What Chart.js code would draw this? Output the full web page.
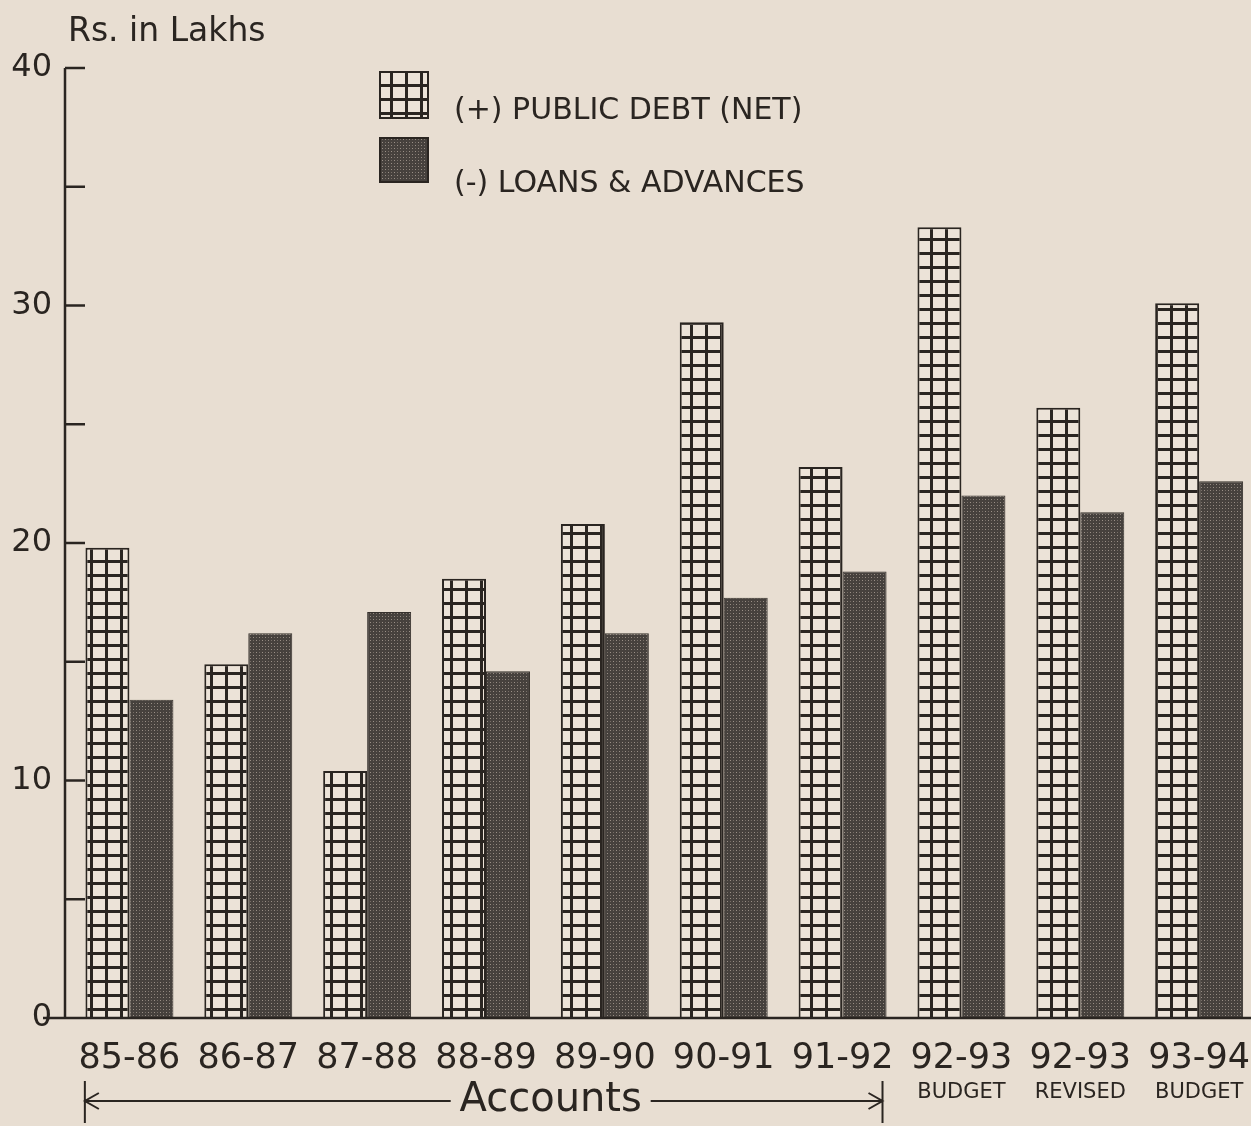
<!DOCTYPE html>
<html>
<head>
<meta charset="utf-8">
<script src="https://cdn.jsdelivr.net/npm/chart.js@4/dist/chart.umd.min.js"></script>
<style>
  html, body { margin: 0; padding: 0; background: #e8ded2; overflow: hidden; }
  #wrap { width: 1251px; height: 1126px; position: relative; overflow: hidden; }
</style>
</head>
<body>
<div id="wrap"><canvas id="chart" width="1262" height="1126"></canvas></div>
<script>
const categories = ["85-86", "86-87", "87-88", "88-89", "89-90", "90-91", "91-92", "92-93", "92-93", "93-94"];
const subLabels = ["", "", "", "", "", "", "", "BUDGET", "REVISED", "BUDGET"];
const publicDebt = [19.8, 14.9, 10.4, 18.5, 20.8, 29.3, 23.2, 33.3, 25.7, 30.1];
const loansAdvances = [13.4, 16.2, 17.1, 14.6, 16.2, 17.7, 18.8, 22.0, 21.3, 22.6];
const seriesNames = ["(+) PUBLIC DEBT (NET)", "(-) LOANS & ADVANCES"];
const labelledTicks = [0, 10, 20, 30, 40];

const ink = "#2a2521";
const paper = "#e8ded2";
const fontName = "'DejaVu Sans', sans-serif";
const axisGap = 5; // y axis line sits a little left of the first bar group

// cross-hatch squares like the printed grid bars
function makeGrid() {
  const c = document.createElement("canvas");
  c.width = 15; c.height = 14;
  const g = c.getContext("2d");
  g.fillStyle = "#ece3d8";
  g.fillRect(0, 0, 15, 14);
  g.fillStyle = ink;
  g.fillRect(0, 0, 15, 3);
  g.fillRect(0, 0, 3, 14);
  return g.createPattern(c, "repeat");
}

// dotted dark screen for loans bars
function makeStipple() {
  const c = document.createElement("canvas");
  c.width = 6; c.height = 6;
  const g = c.getContext("2d");
  g.fillStyle = "#46413d";
  g.fillRect(0, 0, 6, 6);
  g.fillStyle = "#9a9087";
  g.fillRect(1, 1, 1, 1);
  g.fillRect(4, 4, 1, 1);
  g.fillStyle = "#766d66";
  g.fillRect(4, 1, 1, 1);
  g.fillRect(1, 4, 1, 1);
  return g.createPattern(c, "repeat");
}

const gridFill = makeGrid();
const stippleFill = makeStipple();

const decorations = {
  id: "decorations",
  beforeDraw(chart) {
    const ctx = chart.ctx;
    ctx.save();
    ctx.fillStyle = paper;
    ctx.fillRect(0, 0, chart.width, chart.height);
    ctx.restore();
  },
  afterDraw(chart) {
    const ctx = chart.ctx;
    const x = chart.scales.x;
    const y = chart.scales.y;
    const axisX = chart.chartArea.left - axisGap;
    const baseY = y.getPixelForValue(0);
    ctx.save();
    ctx.strokeStyle = ink;
    ctx.fillStyle = ink;
    ctx.lineWidth = 2.5;

    // axes
    ctx.beginPath();
    ctx.moveTo(axisX, y.getPixelForValue(40));
    ctx.lineTo(axisX, baseY);
    ctx.moveTo(axisX - 22, baseY);
    ctx.lineTo(chart.width, baseY);
    ctx.stroke();

    // inward tick marks every 5
    for (let v = 5; v <= 40; v += 5) {
      const py = y.getPixelForValue(v);
      ctx.beginPath();
      ctx.moveTo(axisX, py);
      ctx.lineTo(axisX + 20, py);
      ctx.stroke();
    }

    // title
    ctx.font = "33px " + fontName;
    ctx.textAlign = "left";
    ctx.textBaseline = "alphabetic";
    ctx.fillText("Rs. in Lakhs", 68, 41, 200);

    // legend
    const boxes = [
      { fill: gridFill, y: 72, h: 46, ty: 111 },
      { fill: stippleFill, y: 138, h: 44, ty: 184 }
    ];
    boxes.forEach((b, i) => {
      ctx.fillStyle = b.fill;
      ctx.fillRect(380, b.y, 48, b.h);
      ctx.lineWidth = 2;
      ctx.strokeRect(380, b.y, 48, b.h);
      ctx.fillStyle = ink;
      ctx.font = "30px " + fontName;
      ctx.textBaseline = "middle";
      ctx.fillText(seriesNames[i], 454, b.ty, 360);
    });

    // sub labels under the last categories
    ctx.font = "21px " + fontName;
    ctx.textAlign = "center";
    ctx.textBaseline = "middle";
    subLabels.forEach((s, i) => {
      if (s) ctx.fillText(s, x.getPixelForValue(i), 1093);
    });

    // "Accounts" span with arrows
    const step = x.getPixelForValue(1) - x.getPixelForValue(0);
    const aL = x.getPixelForValue(0) - step * 0.375;
    const aR = x.getPixelForValue(6) + step * 0.336;
    const ay = 1101;
    const tx = aL + (aR - aL) * 0.584;
    ctx.font = "40px " + fontName;
    ctx.fillText("Accounts", tx, ay, 188);
    ctx.lineWidth = 2;
    ctx.beginPath();
    ctx.moveTo(aL, ay); ctx.lineTo(tx - 100, ay);
    ctx.moveTo(tx + 100, ay); ctx.lineTo(aR, ay);
    ctx.moveTo(aL, ay - 20); ctx.lineTo(aL, ay + 22);
    ctx.moveTo(aR, ay - 20); ctx.lineTo(aR, ay + 22);
    ctx.moveTo(aL + 14, ay - 8); ctx.lineTo(aL, ay); ctx.lineTo(aL + 14, ay + 8);
    ctx.moveTo(aR - 14, ay - 8); ctx.lineTo(aR, ay); ctx.lineTo(aR - 14, ay + 8);
    ctx.stroke();
    ctx.restore();
  }
};

new Chart(document.getElementById("chart"), {
  type: "bar",
  data: {
    labels: categories,
    datasets: [
      {
        label: seriesNames[0],
        data: publicDebt,
        backgroundColor: gridFill,
        borderColor: ink,
        borderWidth: 2
      },
      {
        label: seriesNames[1],
        data: loansAdvances,
        backgroundColor: stippleFill,
        borderColor: "#35302c",
        borderWidth: 1
      }
    ]
  },
  options: {
    responsive: false,
    animation: false,
    layout: { padding: { top: 68, right: 0, left: 0, bottom: 0 } },
    plugins: {
      legend: { display: false },
      tooltip: { enabled: false }
    },
    datasets: {
      bar: { categoryPercentage: 0.74, barPercentage: 1.0 }
    },
    scales: {
      x: {
        grid: { display: false },
        border: { display: false },
        ticks: {
          color: ink,
          font: { family: fontName, size: 35 },
          padding: 12,
          autoSkip: false,
          maxRotation: 0,
          minRotation: 0
        },
        afterFit(scale) { scale.height = 108; }
      },
      y: {
        min: 0,
        max: 40,
        grid: { display: false },
        border: { display: false },
        ticks: {
          stepSize: 5,
          color: ink,
          font: { family: fontName, size: 32 },
          padding: 10,
          callback: (v) => labelledTicks.includes(v) ? String(v) : ""
        },
        afterFit(scale) { scale.width = 70; }
      }
    }
  },
  plugins: [decorations]
});
</script>
</body>
</html>
